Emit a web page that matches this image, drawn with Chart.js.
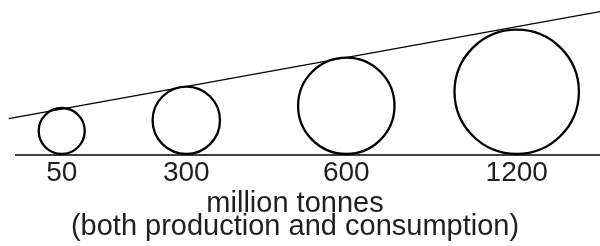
<!DOCTYPE html>
<html>
<head>
<meta charset="utf-8">
<script src="https://cdn.jsdelivr.net/npm/chart.js@4"></script>
<style>
  html, body { margin: 0; padding: 0; background: #fff; }
</style>
</head>
<body>
<canvas id="myChart" width="600" height="246"></canvas>
<script>
let labels = ['50', '300', '600', '1200'];
let centres = [61.7, 186.3, 346.3, 516.7];
let radii = [23, 33.7, 48.2, 62.2];
let tangent = [[8.7, 36.3], [600, 143.3]];
let baseline = [[15, 0], [600, 0]];
let axisTitle = ['million tonnes', '(both production and consumption)'];
let ink = '#231f20';

let bubbles = labels.map((l, i) => ({ x: centres[i], y: radii[i] + 1, r: radii[i] }));

let ctx = document.getElementById('myChart').getContext('2d');
let myChart = new Chart(ctx, {
    type: 'bubble',
    data: {
        datasets: [{
            data: bubbles,
            backgroundColor: 'rgba(255,255,255,0)',
            borderColor: '#000',
            borderWidth: 2.3,
            clip: false
        }, {
            type: 'line',
            data: tangent.map(p => ({ x: p[0], y: p[1] })),
            borderColor: '#000',
            borderWidth: 1.3,
            pointRadius: 0,
            clip: false
        }, {
            type: 'line',
            data: baseline.map(p => ({ x: p[0], y: p[1] })),
            borderColor: '#000',
            borderWidth: 1.5,
            pointRadius: 0,
            clip: false
        }]
    },
    options: {
        responsive: false,
        animation: false,
        layout: { autoPadding: false, padding: { left: 0, right: 10, top: 0, bottom: 0 } },
        plugins: { legend: { display: false }, tooltip: { enabled: false } },
        scales: {
            x: {
                type: 'linear',
                min: 0,
                max: 590,
                grid: { display: false, drawTicks: false },
                border: { display: false },
                afterBuildTicks: s => { s.ticks = centres.map(c => ({ value: c })); },
                afterFit: s => { s.height = 91; },
                ticks: {
                    autoSkip: false,
                    maxRotation: 0,
                    padding: 4,
                    color: ink,
                    font: { family: 'Liberation Sans', size: 28, lineHeight: 1 },
                    callback: (v, i) => labels[i]
                },
                title: {
                    display: true,
                    text: axisTitle,
                    color: ink,
                    font: { family: 'Liberation Sans', size: 29, lineHeight: 0.78 },
                    padding: { top: 0, bottom: 8 }
                }
            },
            y: {
                type: 'linear',
                min: 0,
                max: 155,
                display: false
            }
        }
    }
});
</script>
</body>
</html>
